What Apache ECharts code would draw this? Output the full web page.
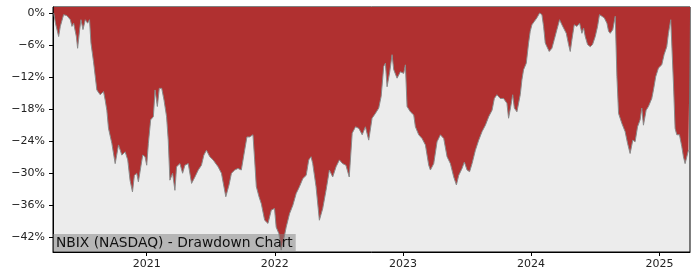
<!DOCTYPE html>
<html>
<head>
<meta charset="utf-8">
<script src="https://cdn.jsdelivr.net/npm/echarts@6/dist/echarts.min.js"></script>
<style>
html,body{margin:0;padding:0;background:#fff;}
#chart{width:700px;height:280px;}
</style>
</head>
<body>
<div id="chart"></div>
<script>
// Dates as decimal years, drawdown in percent
const dateYears = [
2020.275,2020.288,2020.313,2020.326,2020.352,2020.378,2020.404,2020.417,2020.430,2020.451,
2020.461,2020.477,2020.487,2020.503,2020.521,2020.539,2020.554,2020.565,2020.585,2020.611,
2020.637,2020.663,2020.676,2020.689,2020.702,2020.728,2020.754,2020.780,2020.806,2020.832,
2020.852,2020.870,2020.889,2020.904,2020.922,2020.935,2020.948,2020.969,2020.987,2021.000,
2021.013,2021.031,2021.052,2021.065,2021.083,2021.098,2021.117,2021.135,2021.155,2021.168,
2021.181,2021.202,2021.220,2021.233,2021.259,2021.280,2021.298,2021.324,2021.350,2021.376,
2021.402,2021.427,2021.446,2021.466,2021.492,2021.518,2021.557,2021.583,2021.617,2021.642,
2021.661,2021.687,2021.712,2021.738,2021.764,2021.782,2021.803,2021.829,2021.842,2021.855,
2021.876,2021.894,2021.920,2021.946,2021.972,2021.997,2022.010,2022.031,2022.049,2022.067,
2022.088,2022.114,2022.140,2022.166,2022.192,2022.218,2022.244,2022.264,2022.282,2022.295,
2022.321,2022.347,2022.373,2022.399,2022.425,2022.451,2022.477,2022.503,2022.528,2022.554,
2022.580,2022.603,2022.629,2022.655,2022.681,2022.706,2022.732,2022.758,2022.784,2022.810,
2022.829,2022.849,2022.862,2022.875,2022.896,2022.914,2022.927,2022.953,2022.979,2023.005,
2023.018,2023.031,2023.057,2023.083,2023.096,2023.122,2023.148,2023.174,2023.200,2023.213,
2023.239,2023.265,2023.291,2023.317,2023.343,2023.369,2023.395,2023.416,2023.434,2023.460,
2023.478,2023.499,2023.519,2023.538,2023.564,2023.590,2023.616,2023.642,2023.668,2023.694,
2023.712,2023.732,2023.758,2023.784,2023.810,2023.823,2023.842,2023.855,2023.868,2023.888,
2023.914,2023.927,2023.940,2023.961,2023.979,2023.992,2024.005,2024.023,2024.044,2024.065,
2024.083,2024.096,2024.109,2024.122,2024.140,2024.161,2024.179,2024.200,2024.221,2024.239,
2024.252,2024.273,2024.291,2024.304,2024.317,2024.335,2024.356,2024.377,2024.395,2024.408,
2024.421,2024.439,2024.460,2024.478,2024.499,2024.517,2024.532,2024.551,2024.569,2024.590,
2024.603,2024.616,2024.636,2024.655,2024.668,2024.681,2024.707,2024.732,2024.751,2024.771,
2024.792,2024.810,2024.829,2024.849,2024.862,2024.875,2024.896,2024.914,2024.940,2024.953,
2024.971,2024.992,2025.018,2025.036,2025.057,2025.070,2025.088,2025.099,2025.109,2025.122,
2025.135,2025.156,2025.174,2025.187,2025.200,2025.213,2025.226,2025.239
];
const drawdown = [
0,-1.9,-4.4,-2.5,-0.3,-0.5,-1.25,-2.5,-1.9,-4.4,
-6.6,-3.1,-1.25,-3.1,-1.25,-1.9,-1.25,-5.6,-9.1,-14.4,
-15.3,-14.7,-16.3,-18.2,-21.6,-24.4,-28.2,-24.7,-26.6,-26.0,
-27.5,-31.3,-33.5,-30.4,-30.0,-31.6,-31.9,-26.6,-26.9,-28.5,
-24.4,-20.0,-19.4,-14.4,-17.5,-14.1,-14.1,-16.3,-19.4,-23.8,
-31.3,-30.0,-33.2,-28.8,-28.2,-30.0,-28.5,-28.2,-31.9,-30.7,
-29.4,-28.5,-26.6,-25.7,-26.9,-27.5,-28.8,-30.0,-34.4,-32.2,
-30.0,-29.4,-29.1,-29.4,-25.7,-23.2,-23.2,-22.8,-27.5,-32.5,
-34.4,-35.7,-38.8,-39.4,-36.9,-36.6,-40.1,-41.3,-44.4,-42.6,
-40.1,-37.6,-36.0,-33.8,-32.5,-31.0,-30.4,-27.5,-26.9,-28.2,
-32.5,-38.8,-36.6,-33.2,-29.4,-30.7,-28.8,-27.5,-28.2,-28.5,
-30.7,-22.5,-21.3,-21.6,-22.8,-21.3,-23.8,-19.7,-18.8,-17.8,
-15.6,-10.0,-9.4,-13.8,-11.0,-7.8,-10.6,-12.2,-11.0,-11.3,
-9.7,-17.5,-18.5,-19.1,-21.3,-22.8,-23.5,-24.7,-28.5,-29.4,
-28.2,-24.1,-22.8,-23.5,-26.9,-28.2,-30.7,-32.2,-30.4,-29.1,
-27.9,-29.4,-29.7,-28.2,-25.7,-23.8,-22.2,-21.0,-19.4,-18.2,
-16.0,-15.3,-16.0,-16.0,-16.9,-19.7,-17.2,-15.3,-17.8,-18.5,
-15.3,-12.5,-10.6,-9.4,-5.6,-3.4,-2.2,-1.6,-0.9,0,
-0.3,-2.5,-5.6,-6.3,-7.2,-6.6,-5.0,-3.1,-1.25,-2.2,
-2.5,-3.8,-5.9,-7.2,-5.0,-2.2,-2.5,-1.9,-3.8,-2.8,
-4.4,-5.9,-6.3,-5.9,-4.4,-2.5,-0.3,-0.6,-0.9,-1.9,
-3.4,-3.8,-3.1,-0.6,-11.9,-18.8,-20.7,-22.2,-24.4,-26.3,
-23.8,-24.1,-21.3,-20.0,-17.8,-21.0,-18.2,-17.5,-16.0,-14.4,
-11.9,-10.3,-9.7,-7.8,-6.3,-3.8,-1.25,-1.25,-13.1,-21.6,
-22.8,-22.8,-25.0,-26.9,-28.2,-27.9,-25.7,-25.7
];
const yTicks = [0,-6,-12,-18,-24,-30,-36,-42];
const xTickYears = [2021,2022,2023,2024,2025];
const titleText = 'NBIX (NASDAQ) - Drawdown Chart';

const DAY = 86400000;
function yearToTs(y){ return Date.UTC(2021,0,1) + (y-2021)*365.25*DAY; }
const seriesData = dateYears.map((y,i)=>[yearToTs(y), drawdown[i]]);
const xTickTs = xTickYears.map(y=>Date.UTC(y,0,1));

const chart = echarts.init(document.getElementById('chart'), null, {renderer:'canvas'});
const font = 'DejaVu Sans';
chart.setOption({
  animation:false,
  backgroundColor:'#ffffff',
  title:{
    text:titleText,
    left:53, top:234,
    padding:[2,3,1,3],
    backgroundColor:'rgba(128,128,128,0.5)',
    textStyle:{fontFamily:font,fontSize:13.8,fontWeight:'normal',color:'#111',lineHeight:14.5},
    z:10
  },
  grid:{left:53,right:10,top:7,bottom:28,show:true,backgroundColor:'#ececec',borderColor:'#000',borderWidth:1},
  xAxis:{
    type:'value',
    min:Date.UTC(2020,3,9),
    max:Date.UTC(2025,2,29),
    axisLine:{show:true,onZero:false,lineStyle:{color:'#000',width:1}},
    axisTick:{show:true,length:4,lineStyle:{color:'#000'},customValues:xTickTs},
    axisLabel:{customValues:xTickTs,formatter:v=>String(new Date(v).getUTCFullYear()),
      fontFamily:font,fontSize:11,color:'#222',margin:7},
    splitLine:{show:false}
  },
  yAxis:{
    type:'value',
    min:-44.75,max:1.13,
    axisLine:{show:true,lineStyle:{color:'#000',width:1}},
    axisTick:{show:true,length:4,lineStyle:{color:'#000'},customValues:yTicks},
    axisLabel:{customValues:yTicks,formatter:v=>v===0?'0%':'\u2212'+Math.abs(v)+'%',
      fontFamily:font,fontSize:11,color:'#222',margin:8},
    splitLine:{show:false}
  },
  series:[{
    type:'line',
    data:seriesData,
    showSymbol:false,
    symbol:'none',
    lineStyle:{color:'#8a8a8a',width:1},
    areaStyle:{color:'#b03030',opacity:1,origin:'end'},
    z:2
  }]
});
</script>
</body>
</html>
